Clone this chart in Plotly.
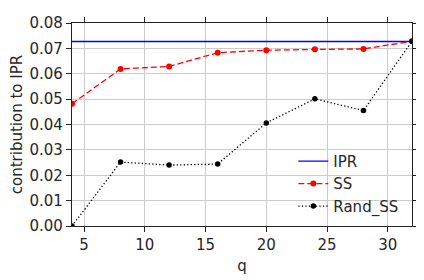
import plotly.graph_objects as go

q = [4, 8, 12, 16, 20, 24, 28, 32]
ipr = [0.0727] * len(q)
ss = [0.0482, 0.0619, 0.0629, 0.0683, 0.0693, 0.0697, 0.0698, 0.0728]
rand_ss = [0.0, 0.0252, 0.0240, 0.0244, 0.0406, 0.0501, 0.0455, 0.0728]

fig = go.Figure()
fig.add_trace(go.Scatter(x=q, y=ipr, mode="lines", name="IPR",
                         line=dict(color="blue", width=1.3)))
fig.add_trace(go.Scatter(x=q, y=ss, mode="lines+markers", name="SS",
                         line=dict(color="red", width=1.3, dash="6px,3px"),
                         marker=dict(color="red", size=6)))
fig.add_trace(go.Scatter(x=q, y=rand_ss, mode="lines+markers", name="Rand_SS",
                         line=dict(color="black", width=1.3, dash="1.3px,2.2px"),
                         marker=dict(color="black", size=5.5)))

axis_common = dict(showgrid=True, gridcolor="#cccccc", gridwidth=1,
                   showline=True, linecolor="#222222", linewidth=1.2,
                   mirror="ticks", ticks="outside", ticklen=5, tickcolor="#222222",
                   zeroline=False, tickfont=dict(size=15, color="#262626"),
                   title_font=dict(size=15, color="#262626"))

fig.update_xaxes(range=[4, 32], tickvals=[5, 10, 15, 20, 25, 30],
                 title_text="q", title_standoff=7, **axis_common)
fig.update_yaxes(range=[0, 0.08], tickvals=[0, 0.01, 0.02, 0.03, 0.04, 0.05, 0.06, 0.07, 0.08],
                 tickformat=".2f", title_text="contribution to IPR", title_standoff=4,
                 **axis_common)

fig.update_layout(
    width=416, height=272,
    margin=dict(l=64, r=6, t=6, b=54),
    paper_bgcolor="white", plot_bgcolor="white",
    font=dict(family="DejaVu Sans", color="#262626"),
    legend=dict(x=0.651, y=0.40, xanchor="left", yanchor="top",
                bgcolor="rgba(255,255,255,0)", font=dict(size=15),
                tracegroupgap=0, itemwidth=30),
    showlegend=True,
)

fig.write_html("out.html")
